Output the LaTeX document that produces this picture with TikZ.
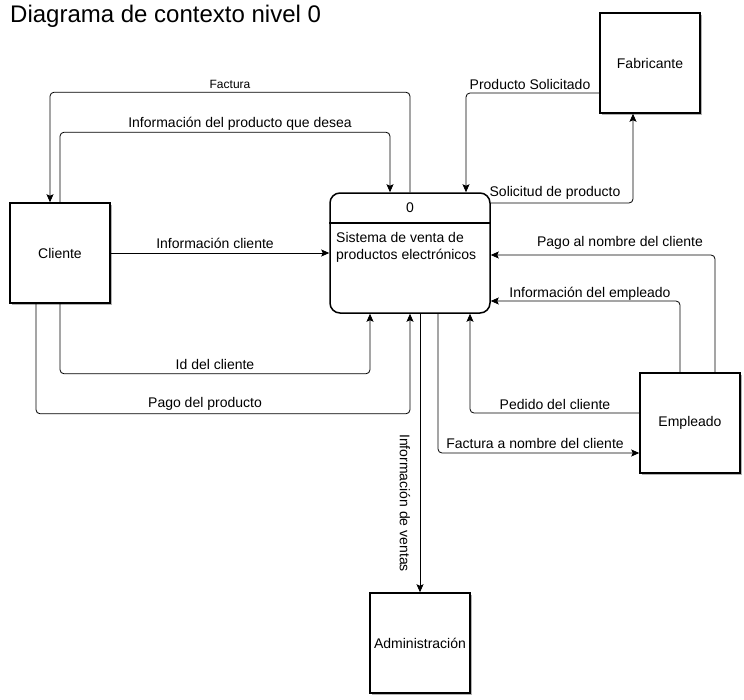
\documentclass[tikz,border=0pt]{standalone}
\usepackage{fontspec}
\setmainfont{Liberation Sans}
\usetikzlibrary{arrows.meta, shadows}
\tikzstyle{entity} = [rectangle, minimum width=100pt, minimum height=100pt, text centered, draw=black, line width=1.5pt, fill=white, drop shadow={shadow xshift=2pt, shadow yshift=-2pt, fill=black!30, opacity=1}]
\tikzstyle{process} = [rectangle, rounded corners=10pt, minimum width=160pt, minimum height=120pt, draw=black, line width=1.5pt]
\tikzstyle{arrow} = [line width=0.8pt, rounded corners=4pt, -{Stealth[length=8pt,width=7pt,inset=1.5pt]}]
\tikzstyle{flowlabel} = [inner sep=0pt]

\begin{document}
\begin{tikzpicture}[x=1pt, y=-1pt, font=\fontsize{14}{17}\selectfont]
\useasboundingbox (0,0) rectangle (744,699);

\node (title) [anchor=west, inner sep=0pt, font=\fontsize{24}{28}\selectfont] at (10,16) {Diagrama de contexto nivel 0};

\node (cliente) [entity] at (60,253) {Cliente};
\node (proc) [process] at (410,253) {};
\node (fabricante) [entity] at (650,63) {Fabricante};
\node (empleado) [entity] at (690,423) {Empleado};
\node (admin) [entity] at (420,643) {Administración};

\draw [line width=1.5pt] ([yshift=30pt]proc.west) -- ([yshift=30pt]proc.east);
\node (procid) at (410,208) {0};
\node (procname) [anchor=north west, align=left, inner sep=0pt] at (336,232) {Sistema de venta de\\productos electrónicos};

\draw [arrow] (proc.north) -- ++(0,-100) -| ([xshift=-10pt]cliente.north);
\draw [arrow] (cliente.north) -- ++(0,-70) -| ([xshift=-20pt]proc.north);
\draw [arrow] (cliente.east) -- (proc.west);
\draw [arrow] (cliente.south) -- ++(0,70) -| ([xshift=-40pt]proc.south);
\draw [arrow] ([xshift=-24pt]cliente.south) -- ++(0,110) -| (proc.south);
\draw [arrow] ([yshift=-30pt]fabricante.west) -| ([xshift=56pt]proc.north);
\draw [arrow] ([yshift=50pt]proc.east) -| ([xshift=-17pt]fabricante.south);
\draw [arrow] ([xshift=25pt]empleado.north) |- ([yshift=-2pt]proc.east);
\draw [arrow] ([xshift=-10pt]empleado.north) |- ([yshift=-48pt]proc.east);
\draw [arrow] ([yshift=10pt]empleado.west) -| ([xshift=60pt]proc.south);
\draw [arrow] ([xshift=28pt]proc.south) |- ([yshift=-30pt]empleado.west);
\draw [arrow] (admin.north |- proc.south) -- (admin.north);

\node (lblfactura) [flowlabel, font=\fontsize{12}{15}\selectfont] at (230,84) {Factura};
\node (lblinfoprod) [flowlabel] at (240,124) {Información del producto que desea};
\node (lblinfocli) [flowlabel] at (215,243) {Información cliente};
\node (lblid) [flowlabel] at (215,364) {Id del cliente};
\node (lblpago) [flowlabel] at (205,404) {Pago del producto};
\node (lblprodsol) [flowlabel] at (530,84) {Producto Solicitado};
\node (lblsolicitud) [flowlabel] at (555,193) {Solicitud de producto};
\node (lblpagonom) [flowlabel] at (620,243) {Pago al nombre del cliente};
\node (lblinfoemp) [flowlabel] at (590,294) {Información del empleado};
\node (lblpedido) [flowlabel] at (555,404) {Pedido del cliente};
\node (lblfactnom) [flowlabel] at (535,443) {Factura a nombre del cliente};
\node (lblventas) [flowlabel, rotate=-90] at (405,503) {Información de ventas};
\end{tikzpicture}
\end{document}
